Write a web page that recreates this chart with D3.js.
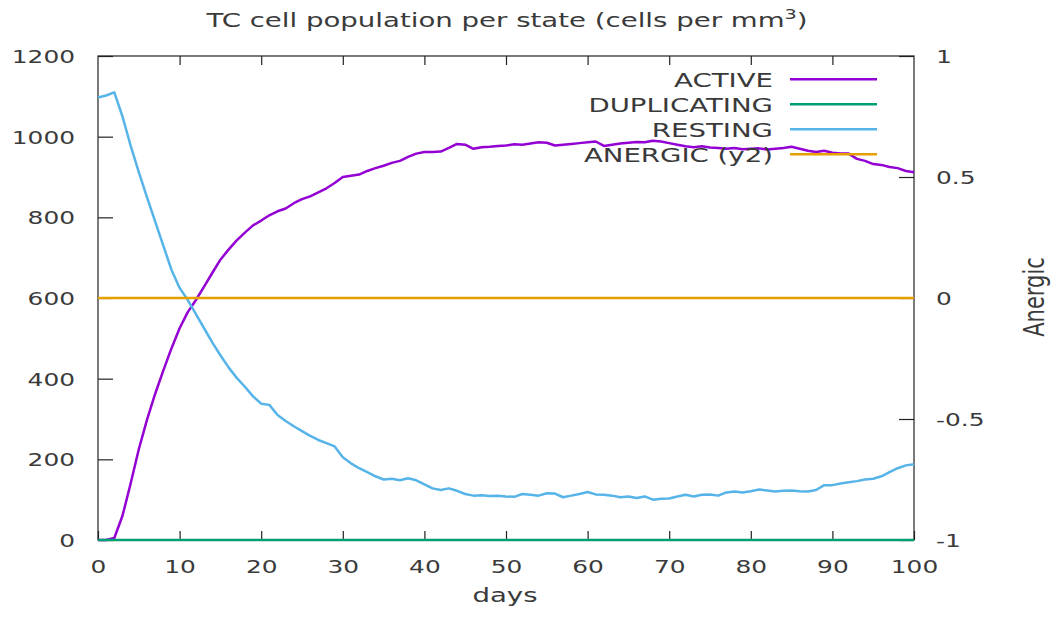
<!DOCTYPE html>
<html>
<head>
<meta charset="utf-8">
<script src="https://cdn.jsdelivr.net/npm/d3@7"></script>
<style>
  html, body { margin: 0; padding: 0; background: #fff; }
  svg { display: block; font-family: "DejaVu Sans", sans-serif; }
</style>
</head>
<body>
<svg id="chart" width="1057" height="617"></svg>
<script>
// days 0..100, one sample per day
const days = d3.range(0, 101);

const active = [
  0, 0, 5, 60, 140, 225, 298, 362, 420, 475,
  525, 565, 595, 628, 662, 695, 720, 743, 762, 780,
  792, 805, 815, 822, 835, 845, 852, 862, 872, 885,
  900, 903, 906, 915, 922, 928, 935, 940, 950, 958,
  962, 962, 963, 972, 982, 980, 970, 974, 975, 977,
  978, 981, 980, 983, 986, 985, 978, 980, 982, 984,
  986, 988, 977, 980, 983, 985, 987, 986, 990, 988,
  984, 980, 976, 974, 976, 973, 972, 970, 972, 969,
  970, 971, 968, 970, 972, 975, 970, 965, 962, 965,
  960, 958, 958, 945, 940, 932, 930, 925, 922, 915,
  912
];

const duplicating = [
  0, 0, 0, 0, 0, 0, 0, 0, 0, 0, 0, 0, 0, 0, 0, 0, 0, 0, 0, 0,
  0, 0, 0, 0, 0, 0, 0, 0, 0, 0, 0, 0, 0, 0, 0, 0, 0, 0, 0, 0,
  0, 0, 0, 0, 0, 0, 0, 0, 0, 0, 0, 0, 0, 0, 0, 0, 0, 0, 0, 0,
  0, 0, 0, 0, 0, 0, 0, 0, 0, 0, 0, 0, 0, 0, 0, 0, 0, 0, 0, 0,
  0, 0, 0, 0, 0, 0, 0, 0, 0, 0, 0, 0, 0, 0, 0, 0, 0, 0, 0, 0,
  0
];

const resting = [
  1097, 1102, 1110, 1050, 978, 912, 850, 790, 730, 670,
  625, 595, 560, 525, 490, 458, 428, 402, 380, 356,
  338, 335, 310, 295, 282, 270, 258, 248, 240, 232,
  205, 190, 178, 168, 158, 150, 152, 148, 153, 148,
  138, 128, 124, 128, 122, 114, 110, 111, 109, 110,
  108, 107, 114, 112, 110, 116, 115, 106, 110, 114,
  119, 113, 112, 110, 106, 108, 104, 108, 100, 102,
  103, 108, 112, 108, 112, 113, 110, 118, 120, 118,
  121, 125, 123, 120, 122, 123, 121, 120, 124, 136,
  136, 140, 143, 146, 150, 152, 158, 168, 178, 185,
  188
];

// anergic is plotted against y2
const anergic = [
  0, 0, 0, 0, 0, 0, 0, 0, 0, 0, 0, 0, 0, 0, 0, 0, 0, 0, 0, 0,
  0, 0, 0, 0, 0, 0, 0, 0, 0, 0, 0, 0, 0, 0, 0, 0, 0, 0, 0, 0,
  0, 0, 0, 0, 0, 0, 0, 0, 0, 0, 0, 0, 0, 0, 0, 0, 0, 0, 0, 0,
  0, 0, 0, 0, 0, 0, 0, 0, 0, 0, 0, 0, 0, 0, 0, 0, 0, 0, 0, 0,
  0, 0, 0, 0, 0, 0, 0, 0, 0, 0, 0, 0, 0, 0, 0, 0, 0, 0, 0, 0,
  0
];

const xTicks = [0, 10, 20, 30, 40, 50, 60, 70, 80, 90, 100];
const yTicks = [0, 200, 400, 600, 800, 1000, 1200];
const y2Ticks = [-1, -0.5, 0, 0.5, 1];

const seriesNames = ["ACTIVE", "DUPLICATING", "RESTING", "ANERGIC (y2)"];
const seriesColors = ["#9400d3", "#009e73", "#56b4e9", "#e69f00"];

// the reference picture is stretched sideways, so is the text
const SX = 1.38;
const textColor = "#3a3a3a";

const svg = d3.select("#chart");
const plot = { left: 98, right: 914, top: 56, bottom: 540 };

const x = d3.scaleLinear().domain([0, 100]).range([plot.left, plot.right]);
const y = d3.scaleLinear().domain([0, 1200]).range([plot.bottom, plot.top]);
const y2 = d3.scaleLinear().domain([-1, 1]).range([plot.bottom, plot.top]);

function styleAxis(g) {
  g.select(".domain").remove();
  g.selectAll(".tick line").attr("stroke", "#222").attr("stroke-width", 1.2);
  g.selectAll(".tick text")
    .attr("fill", textColor)
    .attr("font-size", 18)
    .attr("font-family", "DejaVu Sans, sans-serif")
    .attr("x", null).attr("y", null).attr("dy", null);
}

// bottom axis
svg.append("g")
  .attr("transform", `translate(0,${plot.bottom})`)
  .call(d3.axisBottom(x).tickValues(xTicks).tickFormat(d => String(d)).tickSizeInner(-9).tickSizeOuter(0))
  .call(styleAxis)
  .call(g => g.selectAll(".tick text").attr("transform", `translate(0,33) scale(${SX},1)`));

// mirrored ticks on top
svg.append("g")
  .attr("transform", `translate(0,${plot.top})`)
  .call(d3.axisTop(x).tickValues(xTicks.slice(1, -1)).tickSizeInner(-9).tickSizeOuter(0))
  .call(styleAxis)
  .call(g => g.selectAll(".tick text").remove());

// left axis
svg.append("g")
  .attr("transform", `translate(${plot.left},0)`)
  .call(d3.axisLeft(y).tickValues(yTicks).tickFormat(d => String(d)).tickSizeInner(-15).tickSizeOuter(0))
  .call(styleAxis)
  .call(g => g.selectAll(".tick text").attr("transform", `translate(-23,6.5) scale(${SX},1)`));

// right axis (y2)
svg.append("g")
  .attr("transform", `translate(${plot.right},0)`)
  .call(d3.axisRight(y2).tickValues(y2Ticks).tickFormat(d => String(d)).tickSizeInner(-15).tickSizeOuter(0))
  .call(styleAxis)
  .call(g => g.selectAll(".tick text").attr("text-anchor", "start")
    .attr("transform", `translate(22,6.5) scale(${SX},1)`));

// frame
svg.append("rect")
  .attr("x", plot.left).attr("y", plot.top)
  .attr("width", plot.right - plot.left).attr("height", plot.bottom - plot.top)
  .attr("fill", "none").attr("stroke", "#222").attr("stroke-width", 1.2);

function label(txt, px, py, size, anchor, extra) {
  return svg.append("text")
    .attr("transform", `translate(${px},${py}) scale(${SX},1)` + (extra || ""))
    .attr("text-anchor", anchor)
    .attr("font-size", size)
    .attr("fill", textColor)
    .text(txt);
}

// title with superscript
const title = label("TC cell population per state (cells per mm", 507, 27, 20, "middle");
title.append("tspan").attr("font-size", 14).attr("dy", -8).text("3");
title.append("tspan").attr("dy", 8).text(")");

label("days", 505, 602, 20, "middle");
label("Anergic", 1044, 297, 21, "middle", " rotate(-90)");

const series = [
  { values: active, scale: y },
  { values: duplicating, scale: y },
  { values: resting, scale: y },
  { values: anergic, scale: y2 }
];

series.forEach((s, k) => {
  const gen = d3.line().x((d, i) => x(days[i])).y(d => s.scale(d));
  svg.append("path")
    .attr("d", gen(s.values))
    .attr("fill", "none")
    .attr("stroke", seriesColors[k])
    .attr("stroke-width", 2.5)
    .attr("stroke-linejoin", "round");

  // key entry
  const by = 86.7 + k * 25;
  label(seriesNames[k], 773, by, 20, "end");
  svg.append("line")
    .attr("x1", 790).attr("x2", 877)
    .attr("y1", by - 7.5).attr("y2", by - 7.5)
    .attr("stroke", seriesColors[k])
    .attr("stroke-width", 2.5);
});
</script>
</body>
</html>
